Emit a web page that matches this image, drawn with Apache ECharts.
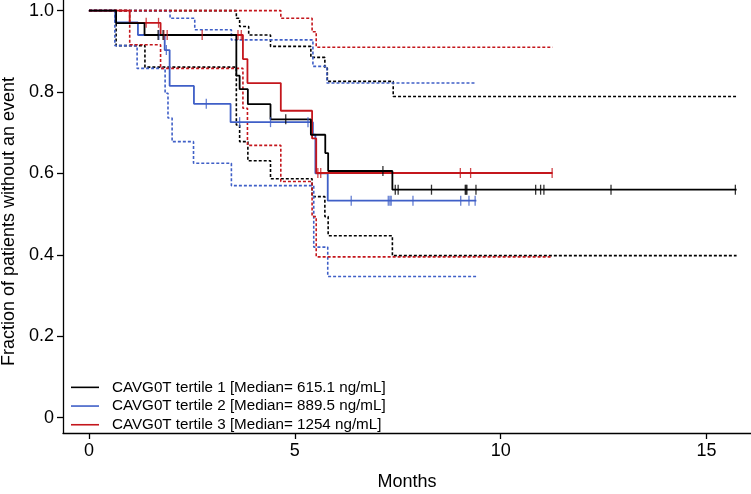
<!DOCTYPE html>
<html><head><meta charset="utf-8">
<script src="https://cdn.jsdelivr.net/npm/echarts@6/dist/echarts.min.js"></script>
<style>html,body{margin:0;padding:0;background:#fff}#c{width:751px;height:494px}</style>
</head><body><div id="c"></div><script>
const seriesNames = [
  'CAVG0T tertile 1 [Median= 615.1 ng/mL]',
  'CAVG0T tertile 2 [Median= 889.5 ng/mL]',
  'CAVG0T tertile 3 [Median= 1254 ng/mL]'
];
const xTicks = [0, 5, 10, 15];
const yTicks = [0, 0.2, 0.4, 0.6, 0.8, 1.0];

// Tertile 1 (black)
const t1Time  = [0, 0.66, 1.35, 3.58, 3.66, 3.86, 4.41, 5.39, 5.74, 5.81, 7.37, 15.73];
const t1Surv  = [1.0, 0.969, 0.940, 0.840, 0.807, 0.770, 0.733, 0.695, 0.650, 0.606, 0.560, 0.560];
const t1UpTime = [0, 3.58, 3.66, 3.88, 4.41, 5.39, 5.73, 5.79, 7.39, 15.73];
const t1Up     = [1.0, 0.981, 0.961, 0.940, 0.912, 0.885, 0.859, 0.826, 0.789, 0.789];
const t1LoTime = [0, 0.66, 1.36, 3.58, 3.66, 3.86, 4.41, 5.42, 5.73, 5.81, 7.37, 15.73];
const t1Lo     = [1.0, 0.914, 0.861, 0.719, 0.678, 0.631, 0.587, 0.543, 0.494, 0.447, 0.398, 0.398];
const t1Cens   = [1.68, 1.80, 4.78, 7.14, 7.44, 7.51, 8.32, 9.14, 9.16, 9.18, 9.40, 10.85, 10.97, 11.05, 12.68, 15.70];

// Tertile 2 (blue)
const t2Time  = [0, 0.64, 1.19, 1.84, 1.96, 2.55, 3.44, 5.44, 5.50, 5.80, 9.41];
const t2Surv  = [1.0, 0.971, 0.940, 0.903, 0.815, 0.771, 0.726, 0.695, 0.600, 0.533, 0.533];
const t2UpTime = [0, 1.97, 2.57, 3.46, 5.44, 5.78, 9.41];
const t2Up     = [1.0, 0.981, 0.953, 0.928, 0.863, 0.822, 0.822];
const t2LoTime = [0, 0.63, 1.17, 1.85, 1.92, 2.02, 2.54, 3.46, 5.46, 5.80, 9.41];
const t2Lo     = [1.0, 0.914, 0.858, 0.797, 0.736, 0.678, 0.625, 0.570, 0.419, 0.347, 0.347];
const t2Cens   = [1.70, 1.88, 2.85, 3.66, 4.41, 5.32, 6.37, 7.27, 7.31, 7.34, 7.87, 9.03, 9.23, 9.38];

// Tertile 3 (red)
const t3Time  = [0, 0.99, 1.74, 3.74, 3.85, 4.66, 5.42, 5.52, 11.26];
const t3Surv  = [1.0, 0.970, 0.940, 0.881, 0.822, 0.754, 0.686, 0.601, 0.601];
const t3UpTime = [0, 4.66, 5.42, 5.52, 11.26];
const t3Up     = [1.0, 0.981, 0.948, 0.910, 0.910];
const t3LoTime = [0, 0.99, 1.74, 3.74, 3.85, 4.66, 5.42, 5.52, 11.26];
const t3Lo     = [1.0, 0.916, 0.858, 0.760, 0.669, 0.580, 0.494, 0.395, 0.395];
const t3Cens   = [1.39, 1.69, 1.82, 1.90, 2.75, 3.62, 3.70, 5.56, 5.63, 9.02, 9.27, 11.25];

const colors = ['#000000', '#3f5fc7', '#c4161c'];
const FONT = 'Liberation Sans, Arial, sans-serif';

function pts(t, v) { return t.map((x, i) => [x, v[i]]); }
function stepAt(t, v, x) { let y = v[0]; for (let i = 0; i < t.length; i++) { if (t[i] <= x) y = v[i]; } return y; }

const groups = [
  {time: t1Time, surv: t1Surv, upT: t1UpTime, up: t1Up, loT: t1LoTime, lo: t1Lo, cens: t1Cens},
  {time: t2Time, surv: t2Surv, upT: t2UpTime, up: t2Up, loT: t2LoTime, lo: t2Lo, cens: t2Cens},
  {time: t3Time, surv: t3Surv, upT: t3UpTime, up: t3Up, loT: t3LoTime, lo: t3Lo, cens: t3Cens}
];

const series = [];
groups.forEach((g, i) => {
  ['up', 'lo'].forEach(k => {
    series.push({
      type: 'line', step: 'end', symbol: 'none', silent: true, z: 2,
      data: pts(g[k + 'T'], g[k]),
      lineStyle: {color: colors[i], width: 1.6, type: [3, 2]}
    });
  });
});
const order = [1, 2, 0];
order.forEach(i => {
  const g = groups[i];
  series.push({
    name: seriesNames[i], type: 'line', step: 'end', symbol: 'none', z: 3,
    data: pts(g.time, g.surv),
    color: colors[i],
    lineStyle: {color: colors[i], width: 1.8}
  });
  series.push({
    type: 'scatter', symbol: 'rect', symbolSize: [1.3, 10], z: 4, silent: true,
    itemStyle: {color: colors[i]},
    data: g.cens.map(x => [x, stepAt(g.time, g.surv, x)])
  });
});

const chart = echarts.init(document.getElementById('c'), null, {renderer: 'canvas'});
chart.setOption({
  animation: false,
  backgroundColor: '#ffffff',
  grid: {left: 63, right: 0, top: 0, bottom: 61, containLabel: false, outerBoundsMode: 'none'},
  legend: {
    data: seriesNames.map((n, i) => ({name: n, icon: 'rect', itemStyle: {color: colors[i]}})),
    orient: 'vertical', left: 66, top: 373,
    itemWidth: 28, itemHeight: 1.6, itemGap: 0,
    textStyle: {fontFamily: FONT, fontSize: 15.2, color: '#000', lineHeight: 18.7, padding: [0, 0, 0, 8]}
  },
  xAxis: {
    type: 'value', min: -0.63, max: 16.08,
    name: 'Months', nameLocation: 'middle', nameGap: 40,
    nameTextStyle: {fontFamily: FONT, fontSize: 18, color: '#000'},
    axisLine: {show: true, onZero: false, lineStyle: {color: '#000', width: 1.3}},
    axisTick: {show: true, length: 6, customValues: xTicks, lineStyle: {color: '#000', width: 1.3}},
    axisLabel: {customValues: xTicks, fontFamily: FONT, fontSize: 18, color: '#000', margin: 9},
    splitLine: {show: false}
  },
  yAxis: {
    type: 'value', min: -0.0376, max: 1.026,
    name: 'Fraction of patients without an event', nameLocation: 'middle', nameGap: 43,
    nameTextStyle: {fontFamily: FONT, fontSize: 18, color: '#000', padding: [0, 10, 0, 0]},
    axisLine: {show: true, onZero: false, lineStyle: {color: '#000', width: 1.3}},
    axisTick: {show: true, length: 6, customValues: yTicks, lineStyle: {color: '#000', width: 1.3}},
    axisLabel: {customValues: yTicks, fontFamily: FONT, fontSize: 18, color: '#000', margin: 9,
      formatter: v => (Math.abs(v) < 1e-9 ? '0' : v.toFixed(1))},
    splitLine: {show: false}
  },
  series: series
});
</script></body></html>
